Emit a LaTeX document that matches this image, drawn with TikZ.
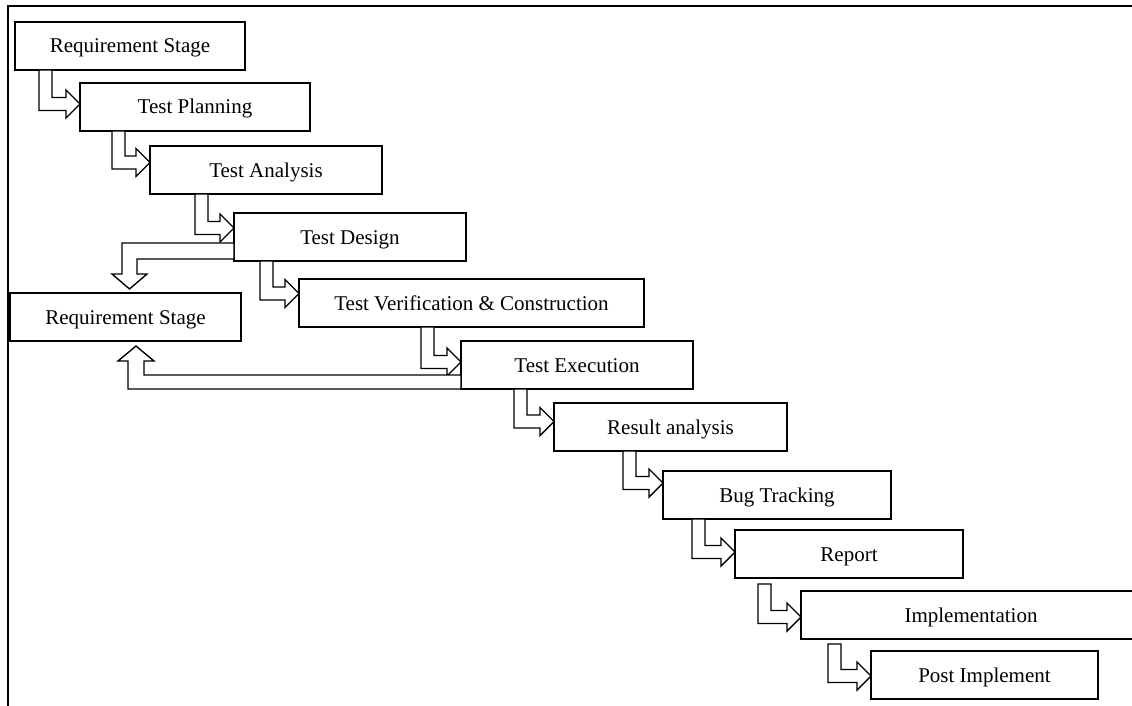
\documentclass[tikz,border=0pt]{standalone}
\usepackage{fontspec}
\setmainfont{Liberation Serif}
\usetikzlibrary{calc}

\tikzset{
  stage/.style={draw, line width=1.6pt, outer sep=0pt, inner sep=0pt,
    minimum height=48pt, anchor=north west, text height=14pt, text depth=0pt,
    font=\fontsize{21}{25}\selectfont},
  hollow/.style={draw, fill=white, line width=1.4pt, line join=miter},
  frame/.style={line width=2pt}
}

% Bent block arrow: leaves the bottom of #1 at offset #3 from its left edge,
% turns right and points at the left side of #2 (raised by #4); #5 = gap below #1
\newcommand\steparrow[5]{%
  \draw[hollow] let \p1=($(#1.south west)+(#3pt,-#5pt)$),
                    \p2=($(#2.west)+(0pt,#4pt)$) in
    (\p1) -- (\x1,\y2-6.5pt) -- (\x2-14pt,\y2-6.5pt) -- (\x2-14pt,\y2-14pt)
    -- (\p2) -- (\x2-14pt,\y2+14pt) -- (\x2-14pt,\y2+6.5pt)
    -- (\x1+13pt,\y2+6.5pt) -- (\x1+13pt,\y1) -- cycle;}

\begin{document}
\begin{tikzpicture}[x=1pt,y=1pt]
\useasboundingbox (0,0) rectangle (1132,-706);

% outer frame (top and left sides)
\draw[frame] (1134,-6) -- (8,-6) -- (8,-708);

% stages
\node[stage, minimum width=230pt] (RS1) at (15,-22)  {Requirement Stage};
\node[stage, minimum width=230pt] (TP)  at (80,-83)  {Test Planning};
\node[stage, minimum width=232pt] (TA)  at (150,-146) {Test Analysis};
\node[stage, minimum width=232pt] (TD)  at (234,-213) {Test Design};
\node[stage, minimum width=345pt] (TVC) at (299,-279) {Test Verification \& Construction};
\node[stage, minimum width=231pt] (RS2) at (10,-293)  {Requirement Stage};
\node[stage, minimum width=232pt] (TE)  at (461,-341) {Test Execution};
\node[stage, minimum width=233pt] (RA)  at (554,-403) {Result analysis};
\node[stage, minimum width=228pt] (BT)  at (663,-471) {Bug Tracking};
\node[stage, minimum width=228pt] (RP)  at (735,-530) {Report};
\node[stage, minimum width=340pt] (IM)  at (801,-591) {Implementation};
\node[stage, minimum width=227pt] (PI)  at (871,-651) {Post Implement};

% forward steps
\steparrow{RS1}{TP}{24}{3}{0}
\steparrow{TP}{TA}{32}{7.5}{0}
\steparrow{TA}{TD}{45}{9}{0}
\steparrow{TD}{TVC}{26}{9.5}{0}
\steparrow{TVC}{TE}{122}{3}{0}
\steparrow{TE}{RA}{53}{5.5}{0}
\steparrow{RA}{BT}{69}{12}{0}
\steparrow{BT}{RP}{29}{2}{0}
\steparrow{RP}{IM}{23}{-2}{6}
\steparrow{IM}{PI}{27}{-1}{5}

% feedback from Test Design down to the second Requirement Stage
\draw[hollow] let \p1=($(TD.south west)+(0pt,2pt)$),
                  \p2=($(RS2.north)+(4pt,4pt)$) in
  (\x1,\y1+16pt) -- (\x2-7.5pt,\y1+16pt) -- (\x2-7.5pt,\y2+15pt)
  -- (\x2-17.5pt,\y2+15pt) -- (\p2) -- (\x2+17.5pt,\y2+15pt)
  -- (\x2+7.5pt,\y2+15pt) -- (\x2+7.5pt,\y1) -- (\p1) -- cycle;

% feedback from Test Execution up to the second Requirement Stage
\draw[hollow] let \p1=(TE.south west),
                  \p2=($(RS2.south)+(10.5pt,-5pt)$) in
  (\p1) -- (\x2-8pt,\y1) -- (\x2-8pt,\y2-15pt) -- (\x2-18pt,\y2-15pt)
  -- (\p2) -- (\x2+18pt,\y2-15pt) -- (\x2+8pt,\y2-15pt)
  -- (\x2+8pt,\y1+14pt) -- (\x1,\y1+14pt) -- cycle;
\end{tikzpicture}
\end{document}
